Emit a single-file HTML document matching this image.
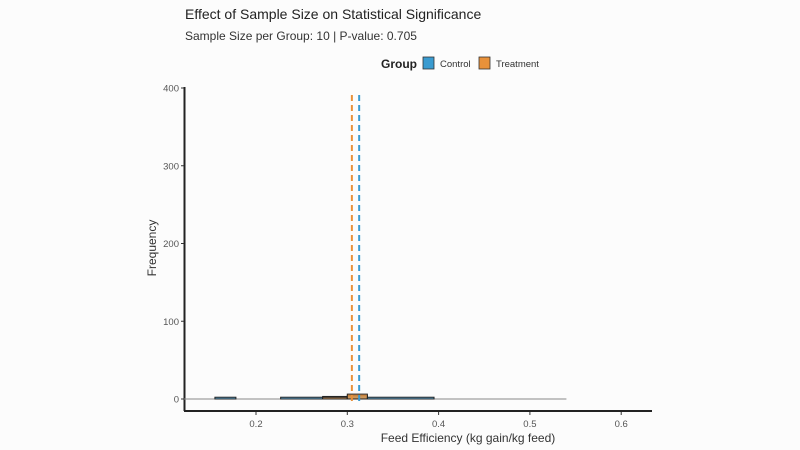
<!DOCTYPE html>
<html><head><meta charset="utf-8"><style>
body{margin:0;background:#fcfcfc;}
svg{display:block;font-family:"Liberation Sans",sans-serif;}
</style></head><body>
<svg id="chart" width="800" height="450">
<rect width="800" height="450" fill="#fcfcfc"/>
<text x="185" y="19" font-size="14" fill="#222">Effect of Sample Size on Statistical Significance</text>
<text x="185" y="40" font-size="12" fill="#333">Sample Size per Group: 10 | P-value: 0.705</text>
<g>
<text x="381" y="68" font-size="12" font-weight="bold" fill="#222">Group</text>
<g><rect x="423" y="57" width="11" height="12" fill="#3a9bd0" stroke="#333" stroke-width="0.8"/><text x="440" y="67" font-size="9.5" fill="#333">Control</text></g>
<g><rect x="479" y="57" width="11" height="12" fill="#e8913a" stroke="#333" stroke-width="0.8"/><text x="496" y="67" font-size="9.5" fill="#333">Treatment</text></g>
</g>
<g id="plot"></g>
<text transform="translate(156,248) rotate(-90)" text-anchor="middle" font-size="12" fill="#333">Frequency</text>
<text x="468" y="442" text-anchor="middle" font-size="12" fill="#333">Feed Efficiency (kg gain/kg feed)</text>
</svg>
<script>
const xTicks=[0.2,0.3,0.4,0.5,0.6];
const yTicks=[0,100,200,300,400];
const binStarts=[0.155,0.227,0.273,0.300,0.322];
const binEnds=[0.178,0.273,0.300,0.322,0.395];
const controlCounts=[1,1,2,3,1];
const treatmentCounts=[0,0,1,5,0];
const controlMean=0.313;
const treatmentMean=0.305;
const rangeMin=0.155, rangeMax=0.54;
const ns="http://www.w3.org/2000/svg";
const X=v=>256+(v-0.2)*913;
const Y=v=>399-v*0.7775;
const g=document.getElementById('plot');
function mk(t,a,p){const e=document.createElementNS(ns,t);for(const k in a)e.setAttribute(k,a[k]);(p||g).appendChild(e);return e;}
// axes
let ya=mk('line',{x1:184.5,y1:87,x2:184.5,y2:411,stroke:'#222','stroke-width':2});


let xa=mk('line',{x1:184,y1:411,x2:652,y2:411,stroke:'#222','stroke-width':2});


yTicks.forEach(t=>{
 mk('line',{x1:181,y1:Y(t),x2:184,y2:Y(t),stroke:'#333'});
 const tx=mk('text',{x:179,y:Y(t)+3.5,'text-anchor':'end','font-size':9.5,fill:'#555'});tx.textContent=t;
 
 
});
xTicks.forEach(t=>{
 mk('line',{x1:X(t),y1:412,x2:X(t),y2:415,stroke:'#333'});
 const tx=mk('text',{x:X(t),y:427,'text-anchor':'middle','font-size':9.5,fill:'#555'});tx.textContent=t;
 
 
});
// zero/range line
let zl=mk('line',{x1:X(rangeMin),y1:Y(0),x2:X(rangeMax),y2:Y(0),stroke:'#888','stroke-width':1});


mk('line',{x1:184,y1:Y(0),x2:X(rangeMin),y2:Y(0),stroke:'#888','stroke-width':1});
// bars
binStarts.forEach((s,i)=>{
 [[controlCounts[i],'#3a9bd0'],[treatmentCounts[i],'#e8913a']].forEach(([c,col],j)=>{
  if(!c)return;
  const r=mk('rect',{x:X(s),y:Y(c)-1,width:X(binEnds[i])-X(s),height:Y(0)-Y(c)+1,fill:col,'fill-opacity':0.8,stroke:'#222','stroke-width':1});
  
  
 });
});
// mean lines
let ml1=mk('line',{x1:X(treatmentMean),y1:Y(0)+2,x2:X(treatmentMean),y2:92,stroke:'#e8913a','stroke-width':2,'stroke-dasharray':'6,4'});


let ml2=mk('line',{x1:X(controlMean),y1:Y(0)+2,x2:X(controlMean),y2:92,stroke:'#3a9bd0','stroke-width':2,'stroke-dasharray':'6,4'});


</script>
</body></html>
